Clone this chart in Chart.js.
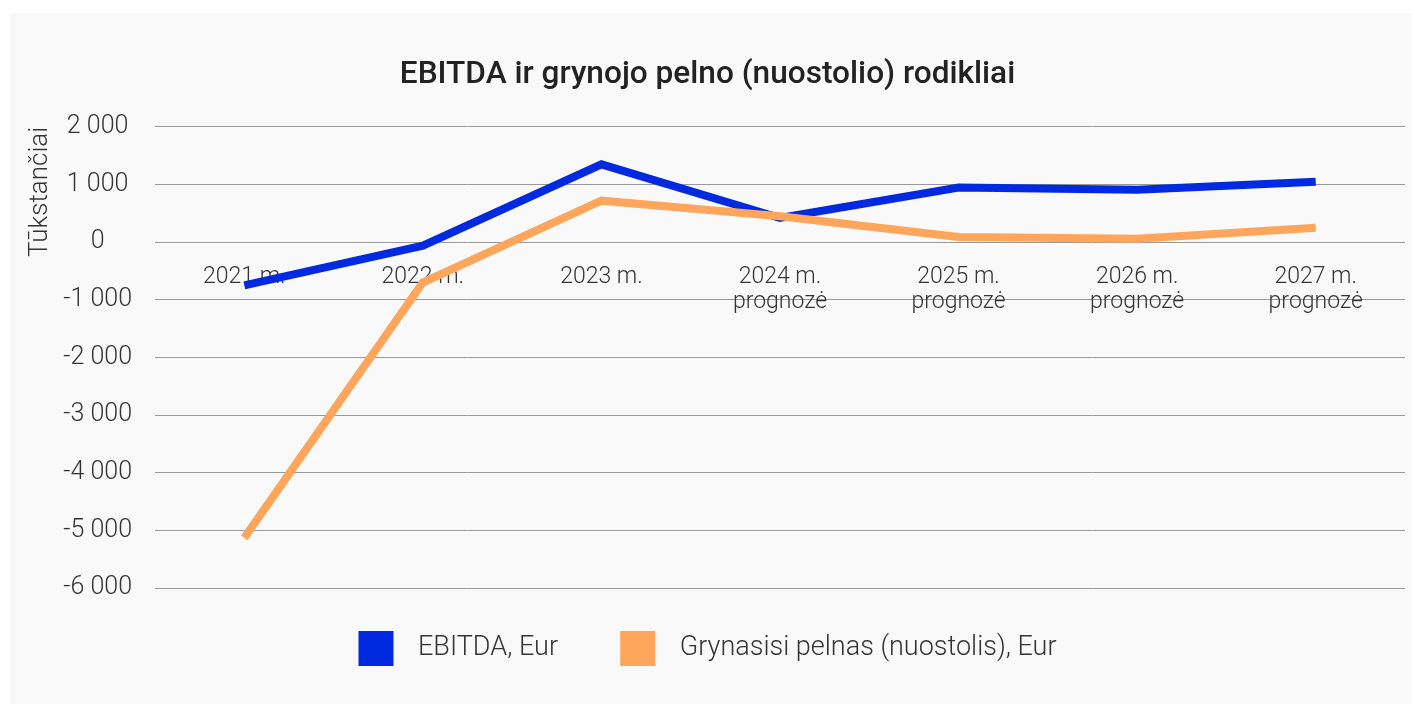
<!DOCTYPE html>
<html>
<head>
<meta charset="utf-8">
<script src="https://cdn.jsdelivr.net/npm/chart.js@4.4.1/dist/chart.umd.min.js"></script>
<style>
  html, body { margin: 0; padding: 0; background: #fff; }
  #panel {
    position: absolute; left: 10px; top: 13px;
    width: 1402px; height: 691px;
    background: #f9f9f9; overflow: hidden;
  }
</style>
</head>
<body>
<div id="panel"><canvas id="myChart" width="1402" height="691"></canvas></div>
<script>
// duomenys (tukstanciai)
const categories = [
  ['2021 m.'], ['2022 m.'], ['2023 m.'],
  ['2024 m.', 'prognozė'], ['2025 m.', 'prognozė'],
  ['2026 m.', 'prognozė'], ['2027 m.', 'prognozė']
];
const ebitda = [-750, -60, 1350, 420, 950, 910, 1050];
const grynasisPelnas = [-5130, -700, 720, 450, 90, 60, 250];
const yMin = -6000;
const yMax = 2000;
const yStep = 1000;

function fmt(v) {
  return String(v).replace(/\B(?=(\d{3})+(?!\d))/g, ' ');
}

Chart.defaults.font.family = 'Roboto';
Chart.defaults.color = '#333';

var ctx = document.getElementById('myChart').getContext('2d');
var myChart = new Chart(ctx, {
  type: 'line',
  data: {
    labels: categories,
    datasets: [{
      label: 'EBITDA, Eur',
      data: ebitda,
      borderColor: '#0029e0',
      backgroundColor: '#0029e0',
      borderWidth: 8,
      pointRadius: 0,
      tension: 0,
      borderCapStyle: 'butt',
      order: 1
    }, {
      label: 'Grynasisi pelnas (nuostolis), Eur',
      data: grynasisPelnas,
      borderColor: '#ffa65c',
      backgroundColor: '#ffa65c',
      borderWidth: 8,
      pointRadius: 0,
      tension: 0,
      borderCapStyle: 'butt',
      order: 0
    }]
  },
  options: {
    responsive: false,
    animation: false,
    layout: { padding: { left: 0, right: 7, top: 0, bottom: 28 } },
    plugins: {
      tooltip: { enabled: false },
      title: {
        display: true,
        text: 'EBITDA ir grynojo pelno (nuostolio) rodikliai',
        color: '#222',
        font: { size: 31.6, weight: '500' },
        padding: { top: 43, bottom: 33 }
      },
      legend: {
        position: 'bottom',
        labels: {
          boxWidth: 35,
          boxHeight: 35,
          padding: 43,
          color: '#333',
          font: { size: 27, weight: '300' },
          sort: function(a, b) { return a.datasetIndex - b.datasetIndex; },
          generateLabels: function(chart) {
            var items = Chart.defaults.plugins.legend.labels.generateLabels(chart);
            items.forEach(function(it) {
              it.text = '\u2009\u2009' + it.text + (it.datasetIndex === 0 ? '\u2002\u2009' : '');
              it.lineWidth = 0;
            });
            return items;
          }
        }
      }
    },
    scales: {
      x: {
        position: { y: 0 },
        offset: true,
        grid: { display: false },
        border: { display: false },
        ticks: {
          color: '#333',
          padding: 14,
          maxRotation: 0,
          autoSkip: false,
          font: { size: 23, weight: '300', lineHeight: 1.1 }
        }
      },
      y: {
        min: yMin,
        max: yMax,
        afterFit: function(scale) { scale.width = 145; },
        grid: { color: '#999', lineWidth: 1, drawTicks: false },
        border: { display: false },
        title: {
          display: true,
          text: 'Tūkstančiai',
          align: 'end',
          color: '#333',
          font: { size: 26, weight: '300' },
          padding: { top: 15, bottom: 0 }
        },
        ticks: {
          stepSize: yStep,
          padding: 23,
          crossAlign: 'center',
          color: '#333',
          font: { size: 25, weight: '300' },
          callback: function(v) { return fmt(v); }
        }
      }
    }
  }
});
</script>
</body>
</html>
